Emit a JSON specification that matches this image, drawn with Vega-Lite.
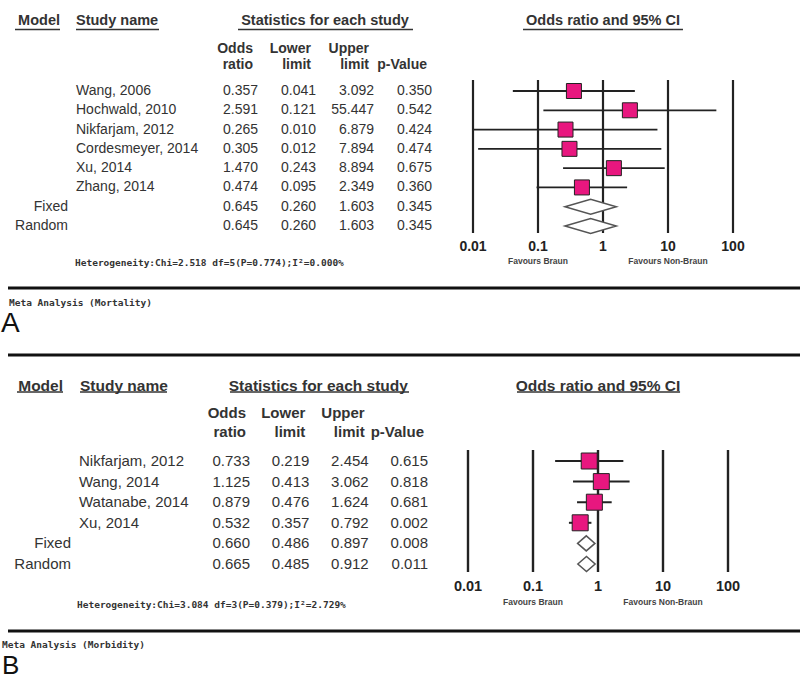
{
  "$schema": "https://vega.github.io/schema/vega-lite/v6.json",
  "background": "white",
  "padding": 0,
  "spacing": 0,
  "bounds": "flush",
  "config": {"view": {"stroke": null}, "axis": {"disable": true}, "legend": {"disable": true}},
  "datasets": {
    "mortality": [
      {"name": "Wang, 2006", "kind": "study", "or": 0.357, "lower": 0.041, "upper": 3.092, "p": 0.350, "row": 1},
      {"name": "Hochwald, 2010", "kind": "study", "or": 2.591, "lower": 0.121, "upper": 55.447, "p": 0.542, "row": 2},
      {"name": "Nikfarjam, 2012", "kind": "study", "or": 0.265, "lower": 0.010, "upper": 6.879, "p": 0.424, "row": 3},
      {"name": "Cordesmeyer, 2014", "kind": "study", "or": 0.305, "lower": 0.012, "upper": 7.894, "p": 0.474, "row": 4},
      {"name": "Xu, 2014", "kind": "study", "or": 1.470, "lower": 0.243, "upper": 8.894, "p": 0.675, "row": 5},
      {"name": "Zhang, 2014", "kind": "study", "or": 0.474, "lower": 0.095, "upper": 2.349, "p": 0.360, "row": 6},
      {"name": "Fixed", "kind": "summary", "or": 0.645, "lower": 0.260, "upper": 1.603, "p": 0.345, "row": 7},
      {"name": "Random", "kind": "summary", "or": 0.645, "lower": 0.260, "upper": 1.603, "p": 0.345, "row": 8}
    ],
    "morbidity": [
      {"name": "Nikfarjam, 2012", "kind": "study", "or": 0.733, "lower": 0.219, "upper": 2.454, "p": 0.615, "row": 1},
      {"name": "Wang, 2014", "kind": "study", "or": 1.125, "lower": 0.413, "upper": 3.062, "p": 0.818, "row": 2},
      {"name": "Watanabe, 2014", "kind": "study", "or": 0.879, "lower": 0.476, "upper": 1.624, "p": 0.681, "row": 3},
      {"name": "Xu, 2014", "kind": "study", "or": 0.532, "lower": 0.357, "upper": 0.792, "p": 0.002, "row": 4},
      {"name": "Fixed", "kind": "summary", "or": 0.660, "lower": 0.486, "upper": 0.897, "p": 0.008, "row": 5},
      {"name": "Random", "kind": "summary", "or": 0.665, "lower": 0.485, "upper": 0.912, "p": 0.011, "row": 6}
    ],
    "ticks": [
      {"t": 0.01, "label": "0.01"},
      {"t": 0.1, "label": "0.1"},
      {"t": 1, "label": "1"},
      {"t": 10, "label": "10"},
      {"t": 100, "label": "100"}
    ],
    "colheads": [
      {"key": "or", "l1": "Odds", "l2": "ratio"},
      {"key": "lower", "l1": "Lower", "l2": "limit"},
      {"key": "upper", "l1": "Upper", "l2": "limit"},
      {"key": "p", "l1": "", "l2": "p-Value"}
    ]
  },
  "vconcat": [
    {
      "width": 800,
      "height": 345,
      "resolve": {"scale": {"x": "independent"}},
      "layer": [
        {
          "layer": [
            {"data": {"name": "ticks"}, "mark": {"type": "rule", "color": "#222", "strokeWidth": 2.2},
             "encoding": {"x": {"field": "t", "type": "quantitative", "scale": {"type": "log", "domain": [0.01, 100], "range": [473, 733]}},
                          "y": {"datum": 0.43, "scale": {"domain": [1, 8], "range": [91, 226], "zero": false, "nice": false}},
                          "y2": {"datum": 8.363}}},
            {"data": {"name": "ticks"}, "mark": {"type": "text", "font": "Liberation Sans", "fontSize": 14, "fontWeight": "bold", "color": "#222", "baseline": "middle", "align": "center"},
             "encoding": {"x": {"field": "t", "type": "quantitative"}, "y": {"datum": 9.073}, "text": {"field": "label"}}},
            {"data": {"name": "mortality"}, "transform": [{"filter": "datum.kind == 'study'"}], "mark": {"type": "rule", "color": "#222", "strokeWidth": 1.8},
             "encoding": {"x": {"field": "lower", "type": "quantitative"}, "x2": {"field": "upper"}, "y": {"field": "row", "type": "quantitative"}}},
            {"data": {"name": "mortality"}, "transform": [{"filter": "datum.kind == 'study'"}], "mark": {"type": "point", "shape": "square", "filled": true, "fill": "#E8177F", "stroke": "#222", "strokeWidth": 1, "size": 225, "opacity": 1},
             "encoding": {"x": {"field": "or", "type": "quantitative"}, "y": {"field": "row", "type": "quantitative"}}},
            {"data": {"name": "mortality"}, "transform": [{"filter": "datum.kind == 'summary'"}], "mark": {"type": "point", "shape": "M-1,0L0,-0.29L1,0L0,0.29Z", "filled": true, "fill": "#ffffff", "stroke": "#555", "strokeWidth": 1.5, "size": 2632, "opacity": 1},
             "encoding": {"x": {"field": "or", "type": "quantitative"}, "y": {"field": "row", "type": "quantitative"}}},
            {"data": {"values": [{}]}, "mark": {"type": "text", "text": "Odds ratio and 95% CI", "font": "Liberation Sans", "fontSize": 14.5, "fontWeight": "bold", "color": "#333", "align": "center", "baseline": "middle"},
             "encoding": {"x": {"datum": 1}, "y": {"datum": -2.63}}},
            {"data": {"values": [{}]}, "mark": {"type": "rule", "color": "#333", "strokeWidth": 1.3},
             "encoding": {"x": {"datum": 0.0588}, "x2": {"datum": 17.0}, "y": {"datum": -2.19}}},
            {"data": {"values": [{}]}, "mark": {"type": "text", "text": "Favours Braun", "font": "Liberation Sans", "fontSize": 8.5, "fontWeight": "bold", "color": "#444", "align": "center", "baseline": "middle"},
             "encoding": {"x": {"datum": 0.1}, "y": {"datum": 9.799}}},
            {"data": {"values": [{}]}, "mark": {"type": "text", "text": "Favours Non-Braun", "font": "Liberation Sans", "fontSize": 8.5, "fontWeight": "bold", "color": "#444", "align": "center", "baseline": "middle"},
             "encoding": {"x": {"datum": 10}, "y": {"datum": 9.799}}}
          ]
        },
        {
          "layer": [
            {"data": {"name": "mortality"}, "transform": [{"fold": ["or", "lower", "upper", "p"], "as": ["key", "value"]}],
             "mark": {"type": "text", "font": "Liberation Sans", "fontSize": 14, "color": "#333", "align": "right", "baseline": "middle"},
             "encoding": {"x": {"field": "key", "type": "nominal", "scale": {"type": "point", "domain": ["or", "lower", "upper", "p"], "range": [258, 432], "padding": 0}},
                          "y": {"field": "row", "type": "quantitative", "scale": {"domain": [1, 8], "range": [91, 226], "zero": false, "nice": false}},
                          "text": {"field": "value", "type": "quantitative", "format": ".3f"}}},
            {"data": {"name": "colheads"}, "mark": {"type": "text", "font": "Liberation Sans", "fontSize": 14, "fontWeight": "bold", "color": "#333", "align": "right", "baseline": "middle", "dx": -5},
             "encoding": {"x": {"field": "key", "type": "nominal"}, "y": {"datum": -1.152}, "text": {"field": "l1"}}},
            {"data": {"name": "colheads"}, "mark": {"type": "text", "font": "Liberation Sans", "fontSize": 14, "fontWeight": "bold", "color": "#333", "align": "right", "baseline": "middle", "dx": -5},
             "encoding": {"x": {"field": "key", "type": "nominal"}, "y": {"datum": -0.348}, "text": {"field": "l2"}}},
            {"data": {"values": [{}]}, "mark": {"type": "text", "text": "Statistics for each study", "font": "Liberation Sans", "fontSize": 14.5, "fontWeight": "bold", "color": "#333", "align": "center", "baseline": "middle", "dx": 9},
             "encoding": {"x": {"datum": "lower"}, "y": {"datum": -2.63}}},
            {"data": {"values": [{}]}, "mark": {"type": "rule", "color": "#333", "strokeWidth": 1.3, "xOffset": -20, "x2Offset": -19},
             "encoding": {"x": {"datum": "or"}, "x2": {"datum": "p"}, "y": {"datum": -2.19}}}
          ]
        },
        {
          "layer": [
            {"data": {"name": "mortality"}, "transform": [{"filter": "datum.kind == 'study'"}],
             "mark": {"type": "text", "font": "Liberation Sans", "fontSize": 14, "color": "#333", "align": "left", "baseline": "middle"},
             "encoding": {"x": {"field": "kind", "type": "nominal", "scale": {"type": "point", "domain": ["summary", "study"], "range": [68, 76], "padding": 0}},
                          "y": {"field": "row", "type": "quantitative", "scale": {"domain": [1, 8], "range": [91, 226], "zero": false, "nice": false}},
                          "text": {"field": "name"}}},
            {"data": {"name": "mortality"}, "transform": [{"filter": "datum.kind == 'summary'"}],
             "mark": {"type": "text", "font": "Liberation Sans", "fontSize": 14, "color": "#333", "align": "right", "baseline": "middle"},
             "encoding": {"x": {"field": "kind", "type": "nominal"}, "y": {"field": "row", "type": "quantitative"}, "text": {"field": "name"}}},
            {"data": {"values": [{}]}, "mark": {"type": "text", "text": "Model", "font": "Liberation Sans", "fontSize": 14.5, "fontWeight": "bold", "color": "#333", "align": "right", "baseline": "middle", "dx": -8},
             "encoding": {"x": {"datum": "summary"}, "y": {"datum": -2.63}}},
            {"data": {"values": [{}]}, "mark": {"type": "text", "text": "Study name", "font": "Liberation Sans", "fontSize": 14.5, "fontWeight": "bold", "color": "#333", "align": "left", "baseline": "middle"},
             "encoding": {"x": {"datum": "study"}, "y": {"datum": -2.63}}},
            {"data": {"values": [{}]}, "mark": {"type": "rule", "color": "#333", "strokeWidth": 1.3, "xOffset": -53, "x2Offset": -8},
             "encoding": {"x": {"datum": "summary"}, "x2": {"datum": "summary"}, "y": {"datum": -2.19}}},
            {"data": {"values": [{}]}, "mark": {"type": "rule", "color": "#333", "strokeWidth": 1.3, "xOffset": 0, "x2Offset": 83},
             "encoding": {"x": {"datum": "study"}, "x2": {"datum": "study"}, "y": {"datum": -2.19}}},
            {"data": {"values": [{}]}, "mark": {"type": "text", "text": "Heterogeneity:Chi=2.518 df=5(P=0.774);I²=0.000%", "font": "DejaVu Sans Mono", "fontSize": 9.5, "fontWeight": "bold", "color": "#333", "align": "left", "baseline": "middle", "dx": -1},
             "encoding": {"x": {"datum": "study"}, "y": {"datum": 9.918}}},
            {"data": {"values": [{}]}, "mark": {"type": "rule", "color": "#111", "strokeWidth": 3, "xOffset": -60, "x2Offset": 724},
             "encoding": {"x": {"datum": "summary"}, "x2": {"datum": "study"}, "y": {"datum": 11.215}}},
            {"data": {"values": [{}]}, "mark": {"type": "text", "text": "Meta Analysis (Mortality)", "font": "DejaVu Sans Mono", "fontSize": 9.5, "fontWeight": "bold", "color": "#333", "align": "left", "baseline": "middle", "dx": -59},
             "encoding": {"x": {"datum": "summary"}, "y": {"datum": 11.993}}},
            {"data": {"values": [{}]}, "mark": {"type": "text", "text": "A", "font": "Liberation Sans", "fontSize": 28, "color": "#111", "align": "left", "baseline": "alphabetic", "dx": -67},
             "encoding": {"x": {"datum": "summary"}, "y": {"datum": 13.496}}}
          ]
        }
      ]
    },
    {
      "width": 800,
      "height": 334,
      "resolve": {"scale": {"x": "independent"}},
      "layer": [
        {
          "layer": [
            {"data": {"name": "ticks"}, "mark": {"type": "rule", "color": "#222", "strokeWidth": 2.4},
             "encoding": {"x": {"field": "t", "type": "quantitative", "scale": {"type": "log", "domain": [0.01, 100], "range": [468, 728]}},
                          "y": {"datum": 0.466, "scale": {"domain": [1, 6], "range": [116, 219], "zero": false, "nice": false}},
                          "y2": {"datum": 6.388}}},
            {"data": {"name": "ticks"}, "mark": {"type": "text", "font": "Liberation Sans", "fontSize": 14.5, "fontWeight": "bold", "color": "#222", "baseline": "middle", "align": "center"},
             "encoding": {"x": {"field": "t", "type": "quantitative"}, "y": {"datum": 7.117}, "text": {"field": "label"}}},
            {"data": {"name": "morbidity"}, "transform": [{"filter": "datum.kind == 'study'"}], "mark": {"type": "rule", "color": "#222", "strokeWidth": 2},
             "encoding": {"x": {"field": "lower", "type": "quantitative"}, "x2": {"field": "upper"}, "y": {"field": "row", "type": "quantitative"}}},
            {"data": {"name": "morbidity"}, "transform": [{"filter": "datum.kind == 'study'"}], "mark": {"type": "point", "shape": "square", "filled": true, "fill": "#E8177F", "stroke": "#222", "strokeWidth": 1, "size": 256, "opacity": 1},
             "encoding": {"x": {"field": "or", "type": "quantitative"}, "y": {"field": "row", "type": "quantitative"}}},
            {"data": {"name": "morbidity"}, "transform": [{"filter": "datum.kind == 'summary'"}], "mark": {"type": "point", "shape": "M-1,0L0,-0.87L1,0L0,0.87Z", "filled": true, "fill": "#ffffff", "stroke": "#555", "strokeWidth": 1.5, "size": 300, "opacity": 1},
             "encoding": {"x": {"field": "or", "type": "quantitative"}, "y": {"field": "row", "type": "quantitative"}}},
            {"data": {"values": [{}]}, "mark": {"type": "text", "text": "Odds ratio and 95% CI", "font": "Liberation Sans", "fontSize": 15.5, "fontWeight": "bold", "color": "#333", "align": "center", "baseline": "middle"},
             "encoding": {"x": {"datum": 1}, "y": {"datum": -2.665}}},
            {"data": {"values": [{}]}, "mark": {"type": "rule", "color": "#333", "strokeWidth": 1.3},
             "encoding": {"x": {"datum": 0.0567}, "x2": {"datum": 18.3}, "y": {"datum": -2.35}}},
            {"data": {"values": [{}]}, "mark": {"type": "text", "text": "Favours Braun", "font": "Liberation Sans", "fontSize": 8.5, "fontWeight": "bold", "color": "#444", "align": "center", "baseline": "middle"},
             "encoding": {"x": {"datum": 0.1}, "y": {"datum": 7.845}}},
            {"data": {"values": [{}]}, "mark": {"type": "text", "text": "Favours Non-Braun", "font": "Liberation Sans", "fontSize": 8.5, "fontWeight": "bold", "color": "#444", "align": "center", "baseline": "middle"},
             "encoding": {"x": {"datum": 10}, "y": {"datum": 7.845}}}
          ]
        },
        {
          "layer": [
            {"data": {"name": "morbidity"}, "transform": [{"fold": ["or", "lower", "upper", "p"], "as": ["key", "value"]}],
             "mark": {"type": "text", "font": "Liberation Sans", "fontSize": 15, "color": "#333", "align": "right", "baseline": "middle"},
             "encoding": {"x": {"field": "key", "type": "nominal", "scale": {"type": "point", "domain": ["or", "lower", "upper", "p"], "range": [250, 428], "padding": 0}},
                          "y": {"field": "row", "type": "quantitative", "scale": {"domain": [1, 6], "range": [116, 219], "zero": false, "nice": false}},
                          "text": {"field": "value", "type": "quantitative", "format": ".3f"}}},
            {"data": {"name": "colheads"}, "mark": {"type": "text", "font": "Liberation Sans", "fontSize": 15, "fontWeight": "bold", "color": "#333", "align": "right", "baseline": "middle", "dx": -4},
             "encoding": {"x": {"field": "key", "type": "nominal"}, "y": {"datum": -1.306}, "text": {"field": "l1"}}},
            {"data": {"name": "colheads"}, "mark": {"type": "text", "font": "Liberation Sans", "fontSize": 15, "fontWeight": "bold", "color": "#333", "align": "right", "baseline": "middle", "dx": -4},
             "encoding": {"x": {"field": "key", "type": "nominal"}, "y": {"datum": -0.408}, "text": {"field": "l2"}}},
            {"data": {"values": [{}]}, "mark": {"type": "text", "text": "Statistics for each study", "font": "Liberation Sans", "fontSize": 15.5, "fontWeight": "bold", "color": "#333", "align": "center", "baseline": "middle", "dx": 9},
             "encoding": {"x": {"datum": "lower"}, "y": {"datum": -2.665}}},
            {"data": {"values": [{}]}, "mark": {"type": "rule", "color": "#333", "strokeWidth": 1.3, "xOffset": -20, "x2Offset": -19},
             "encoding": {"x": {"datum": "or"}, "x2": {"datum": "p"}, "y": {"datum": -2.35}}}
          ]
        },
        {
          "layer": [
            {"data": {"name": "morbidity"}, "transform": [{"filter": "datum.kind == 'study'"}],
             "mark": {"type": "text", "font": "Liberation Sans", "fontSize": 15, "color": "#333", "align": "left", "baseline": "middle"},
             "encoding": {"x": {"field": "kind", "type": "nominal", "scale": {"type": "point", "domain": ["summary", "study"], "range": [71, 79], "padding": 0}},
                          "y": {"field": "row", "type": "quantitative", "scale": {"domain": [1, 6], "range": [116, 219], "zero": false, "nice": false}},
                          "text": {"field": "name"}}},
            {"data": {"name": "morbidity"}, "transform": [{"filter": "datum.kind == 'summary'"}],
             "mark": {"type": "text", "font": "Liberation Sans", "fontSize": 15, "color": "#333", "align": "right", "baseline": "middle"},
             "encoding": {"x": {"field": "kind", "type": "nominal"}, "y": {"field": "row", "type": "quantitative"}, "text": {"field": "name"}}},
            {"data": {"values": [{}]}, "mark": {"type": "text", "text": "Model", "font": "Liberation Sans", "fontSize": 15.5, "fontWeight": "bold", "color": "#333", "align": "right", "baseline": "middle", "dx": -8},
             "encoding": {"x": {"datum": "summary"}, "y": {"datum": -2.665}}},
            {"data": {"values": [{}]}, "mark": {"type": "text", "text": "Study name", "font": "Liberation Sans", "fontSize": 15.5, "fontWeight": "bold", "color": "#333", "align": "left", "baseline": "middle", "dx": 1},
             "encoding": {"x": {"datum": "study"}, "y": {"datum": -2.665}}},
            {"data": {"values": [{}]}, "mark": {"type": "rule", "color": "#333", "strokeWidth": 1.3, "xOffset": -54, "x2Offset": -8},
             "encoding": {"x": {"datum": "summary"}, "x2": {"datum": "summary"}, "y": {"datum": -2.35}}},
            {"data": {"values": [{}]}, "mark": {"type": "rule", "color": "#333", "strokeWidth": 1.3, "xOffset": 1, "x2Offset": 88},
             "encoding": {"x": {"datum": "study"}, "x2": {"datum": "study"}, "y": {"datum": -2.35}}},
            {"data": {"values": [{}]}, "mark": {"type": "rule", "color": "#111", "strokeWidth": 3, "xOffset": -63, "x2Offset": 721},
             "encoding": {"x": {"datum": "summary"}, "x2": {"datum": "study"}, "y": {"datum": -4.146}}},
            {"data": {"values": [{}]}, "mark": {"type": "text", "text": "Heterogeneity:Chi=3.084 df=3(P=0.379);I²=2.729%", "font": "DejaVu Sans Mono", "fontSize": 9.5, "fontWeight": "bold", "color": "#333", "align": "left", "baseline": "middle", "dx": -2},
             "encoding": {"x": {"datum": "study"}, "y": {"datum": 7.99}}},
            {"data": {"values": [{}]}, "mark": {"type": "rule", "color": "#111", "strokeWidth": 3, "xOffset": -63, "x2Offset": 721},
             "encoding": {"x": {"datum": "summary"}, "x2": {"datum": "study"}, "y": {"datum": 9.252}}},
            {"data": {"values": [{}]}, "mark": {"type": "text", "text": "Meta Analysis (Morbidity)", "font": "DejaVu Sans Mono", "fontSize": 9.5, "fontWeight": "bold", "color": "#333", "align": "left", "baseline": "middle", "dx": -69},
             "encoding": {"x": {"datum": "summary"}, "y": {"datum": 9.932}}},
            {"data": {"values": [{}]}, "mark": {"type": "text", "text": "B", "font": "Liberation Sans", "fontSize": 26, "color": "#111", "align": "left", "baseline": "alphabetic", "dx": -69},
             "encoding": {"x": {"datum": "summary"}, "y": {"datum": 11.34}}}
          ]
        }
      ]
    }
  ]
}
